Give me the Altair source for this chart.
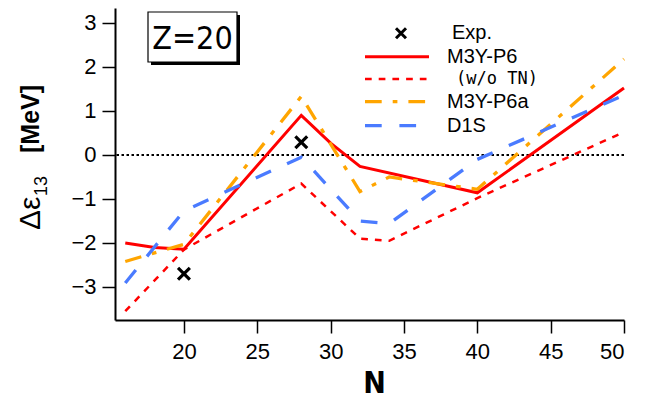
import altair as alt
import pandas as pd

# ---- data ----
N_P6 = [16, 18, 20, 28, 30, 32, 40, 50]
V_P6 = [-2.00, -2.10, -2.14, 0.90, 0.27, -0.26, -0.86, 1.52]

N_WO = [16, 20, 28, 32, 34, 40, 50]
V_WO = [-3.55, -2.15, -0.65, -1.90, -1.95, -0.98, 0.52]

N_P6A = [16, 20, 28, 32, 34, 40, 50]
V_P6A = [-2.42, -2.03, 1.33, -0.83, -0.50, -0.78, 2.18]

N_D1S = [16, 20, 28, 32, 34, 40, 50]
V_D1S = [-2.91, -1.27, -0.05, -1.50, -1.56, -0.10, 1.36]

N_EXP = [20, 28]
V_EXP = [-2.70, 0.29]

X_TICKS = [20, 25, 30, 35, 40, 45, 50]
Y_TICKS = [-3, -2, -1, 0, 1, 2, 3]

LABELS = ["Exp.", "M3Y-P6", "(w/o TN)", "M3Y-P6a", "D1S"]
PANEL = "Z=20"
X_TITLE = "N"
Y_TITLE = ["\u0394\u03b5", "13", "[MeV]"]

RED = "#ff0000"
ORANGE = "#ffa500"
BLUE = "#4a7bff"

COND = "DejaVu Sans Condensed, Liberation Sans"
SANS = "Liberation Sans"
MONO = "DejaVu Sans Mono"

xs = alt.Scale(domain=[15.3, 50], nice=False, zero=False)
ys = alt.Scale(domain=[-3.75, 3.34], nice=False, zero=False)
X = alt.X("N:Q", scale=xs,
          axis=alt.Axis(values=X_TICKS, title=None, labelPadding=8, format="d"))
Y = alt.Y("v:Q", scale=ys,
          axis=alt.Axis(values=Y_TICKS, title=None, labelPadding=6, format="d"))


def series(ns, vs, **style):
    df = pd.DataFrame({"N": ns, "v": vs})
    return alt.Chart(df).mark_line(**style).encode(x=X, y=Y)


one = pd.DataFrame({"k": [0]})

zero = alt.Chart(pd.DataFrame({"v": [0]})).mark_rule(
    color="black", strokeWidth=1.8, strokeDash=[2.5, 2.5]
).encode(y=Y)

wo = series(N_WO, V_WO, color=RED, strokeWidth=2.5, strokeDash=[6.7, 7])
p6 = series(N_P6, V_P6, color=RED, strokeWidth=3)
p6a = series(N_P6A, V_P6A, color=ORANGE, strokeWidth=3.3,
             strokeDash=[16.7, 11, 4.7, 11])
d1s = series(N_D1S, V_D1S, color=BLUE, strokeWidth=3.3, strokeDash=[16.7, 17.7])

XSHAPE = "M -1 -1 L 1 1 M -1 1 L 1 -1"
exp = alt.Chart(pd.DataFrame({"N": N_EXP, "v": V_EXP})).mark_point(
    shape=XSHAPE, filled=False, stroke="black", strokeWidth=3.2, size=140, opacity=1
).encode(x=X, y=Y)

# ---- legend (pixel positions in the plot frame) ----
leg = []
leg.append(alt.Chart(one).mark_point(
    shape=XSHAPE, filled=False, stroke="black", strokeWidth=3, size=100, opacity=1
).encode(x=alt.value(286), y=alt.value(25.3)))
leg.append(alt.Chart(one).mark_rule(color=RED, strokeWidth=3).encode(
    x=alt.value(250), x2=alt.value(314), y=alt.value(48.7)))
leg.append(alt.Chart(one).mark_rule(color=RED, strokeWidth=2.5, strokeDash=[6.7, 7]).encode(
    x=alt.value(250), x2=alt.value(314), y=alt.value(71)))
leg.append(alt.Chart(one).mark_rule(color=ORANGE, strokeWidth=3.3,
                                    strokeDash=[16.7, 11, 4.7, 11]).encode(
    x=alt.value(250), x2=alt.value(314), y=alt.value(93.7)))
leg.append(alt.Chart(one).mark_rule(color=BLUE, strokeWidth=3.3,
                                    strokeDash=[16.7, 17.7]).encode(
    x=alt.value(250), x2=alt.value(314), y=alt.value(117.7)))

txt_pos = [(337, 31.3, SANS, 20), (332, 55.3, SANS, 20), (341, 75.5, MONO, 17),
           (332, 100.3, SANS, 20), (332, 124.3, SANS, 20)]
for lab, (tx, ty, fnt, fs) in zip(LABELS, txt_pos):
    leg.append(alt.Chart(one).mark_text(
        text=lab, align="left", baseline="alphabetic", font=fnt, fontSize=fs, color="black"
    ).encode(x=alt.value(tx), y=alt.value(ty)))

# ---- Z=20 box ----
box = [
    alt.Chart(one).mark_rect(color="black").encode(
        x=alt.value(36), x2=alt.value(125), y=alt.value(7), y2=alt.value(57)),
    alt.Chart(one).mark_rect(fill="white", stroke="black", strokeWidth=1.2).encode(
        x=alt.value(33), x2=alt.value(122), y=alt.value(4), y2=alt.value(54)),
    alt.Chart(one).mark_text(text=PANEL, align="center", baseline="alphabetic",
                             font=COND, fontSize=32, color="black").encode(
        x=alt.value(77.5), y=alt.value(41)),
]

# ---- axis titles ----
titles = [
    alt.Chart(one).mark_text(text=X_TITLE, align="center", baseline="alphabetic",
                             font=COND, fontSize=30, fontWeight="bold",
                             color="black").encode(x=alt.value(259.5), y=alt.value(385)),
    alt.Chart(one).mark_text(text=Y_TITLE[0], align="left", baseline="alphabetic",
                             angle=270, font=SANS, fontSize=30,
                             color="black").encode(x=alt.value(-75), y=alt.value(222)),
    alt.Chart(one).mark_text(text=Y_TITLE[1], align="left", baseline="alphabetic",
                             angle=270, font=SANS, fontSize=18,
                             color="black").encode(x=alt.value(-68), y=alt.value(188)),
    alt.Chart(one).mark_text(text=Y_TITLE[2], align="left", baseline="alphabetic",
                             angle=270, font=SANS, fontSize=25, fontWeight="bold",
                             color="black").encode(x=alt.value(-76), y=alt.value(145)),
]

chart = alt.layer(zero, wo, p6, p6a, d1s, exp, *leg, *box, *titles).properties(
    width=509, height=312, autosize="none",
    padding={"left": 107, "top": 0, "right": 25, "bottom": 84},
).configure_view(stroke=None).configure_axis(
    grid=False, domainColor="black", domainWidth=2, tickColor="black",
    tickWidth=1.5, tickSize=13, labelFont=SANS, labelFontSize=22,
    labelColor="black",
)

chart.save("out.html", embed_options={"renderer": "svg", "actions": False})
